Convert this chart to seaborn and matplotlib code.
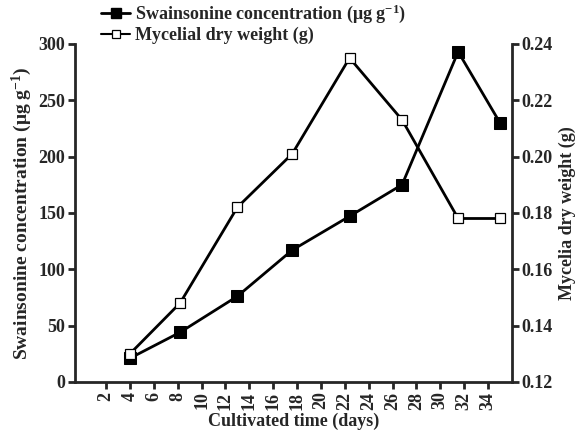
import seaborn as sns
import pandas as pd
import matplotlib.pyplot as plt
from matplotlib.lines import Line2D

# values
days = [4, 8.2, 13, 17.6, 22.4, 26.8, 31.5, 35]
swainsonine = [21, 44, 76, 117, 147, 175, 293, 230]
dry_weight = [0.130, 0.148, 0.182, 0.201, 0.235, 0.213, 0.178, 0.178]
xticks = list(range(2, 36, 2))

df = pd.DataFrame({"day": days, "sw": swainsonine, "dw": dry_weight})

sns.set_style("ticks")
plt.rcParams['font.family'] = ['Liberation Serif', 'DejaVu Serif']
plt.rcParams['font.weight'] = 'bold'
plt.rcParams['mathtext.fontset'] = 'custom'
plt.rcParams['mathtext.rm'] = 'Liberation Serif:bold'
plt.rcParams['mathtext.default'] = 'rm'

fig = plt.figure(figsize=(5.87, 4.43), dpi=100)
ax = fig.add_axes([0.128, 0.138, 0.744, 0.763])
ax2 = ax.twinx()

sns.lineplot(data=df, x="day", y="sw", ax=ax, color="black", lw=2,
             marker="s", markersize=8, markerfacecolor="black",
             markeredgecolor="black")
sns.lineplot(data=df, x="day", y="dw", ax=ax2, color="black", lw=2,
             marker="s", markersize=7, markerfacecolor="white",
             markeredgecolor="black", markeredgewidth=0.9)

ax.set_xlim(-0.6, 36)
ax.set_ylim(0, 300)
ax2.set_ylim(0.12, 0.24)
ax.set_xticks(xticks)
ax.set_xticklabels([str(t) for t in xticks], rotation=90)
ax.set_yticks(range(0, 301, 50))
ax2.set_yticks([0.12, 0.14, 0.16, 0.18, 0.20, 0.22, 0.24])
ax2.set_yticklabels(["0.12", "0.14", "0.16", "0.18", "0.20", "0.22", "0.24"])

fs = 13
ax.set_xlabel("Cultivated time (days)", fontsize=fs, fontweight="bold", labelpad=2)
ax.set_ylabel("Swainsonine concentration (μg g$^{-1}$)", fontsize=14,
              fontweight="bold", labelpad=3)
ax2.set_ylabel("Mycelia dry weight (g)", fontsize=fs, fontweight="bold", labelpad=4)

for a in (ax, ax2):
    a.tick_params(labelsize=fs, width=2, length=5, direction="out", pad=2)
    for s in a.spines.values():
        s.set_linewidth(2)
    a.spines["top"].set_visible(False)
ax.spines["right"].set_visible(False)
ax2.spines["left"].set_visible(False)
ax2.spines["bottom"].set_visible(False)

handles = [
    Line2D([], [], color="black", lw=2, marker="s", markersize=7,
           markerfacecolor="black"),
    Line2D([], [], color="black", lw=1.5, marker="s", markersize=6,
           markerfacecolor="white", markeredgewidth=0.9),
]
labels = ["Swainsonine concentration (μg g$^{-1}$)", "Mycelial dry weight (g)"]
fig.legend(handles, labels, loc="upper left", bbox_to_anchor=(0.16, 1.01),
           frameon=False, fontsize=fs, handlelength=1.6, handletextpad=0.3,
           labelspacing=0.1, borderaxespad=0)

fig.savefig("out.png", dpi=100)
